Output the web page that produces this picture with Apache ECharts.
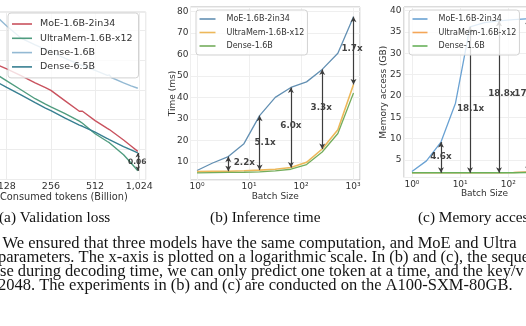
<!DOCTYPE html>
<html>
<head>
<meta charset="utf-8">
<title>UltraMem vs MoE vs Dense</title>
<script src="https://cdn.jsdelivr.net/npm/echarts@6/dist/echarts.min.js"></script>
<style>
  html, body { margin: 0; padding: 0; background: #ffffff; }
  #main { width: 526px; height: 326px; }
</style>
</head>
<body>
<div id="main"></div>
<script>
// ---- (a) Validation loss against consumed tokens (billions) ----
const tokens       = [100, 128, 160, 200, 235, 242, 256, 320, 400, 410, 420, 512, 620, 640, 660, 800, 900, 1000];
const lossMoE      = [2.593, 2.570, 2.547, 2.523, 2.507, 2.504, 2.498, 2.463, 2.428, 2.425, 2.428, 2.397, 2.371, 2.367, 2.362, 2.332, 2.312, 2.294];
const lossUltraMem = [2.563, 2.530, 2.500, 2.470, 2.452, 2.458, 2.443, 2.420, 2.395, 2.391, 2.388, 2.353, 2.327, 2.323, 2.317, 2.283, 2.255, 2.229];
const lossDense16  = [2.763, 2.713, 2.673, 2.650, 2.635, 2.632, 2.627, 2.605, 2.585, 2.583, 2.581, 2.565, 2.548, 2.550, 2.541, 2.523, 2.513, 2.505];
const lossDense65  = [2.537, 2.508, 2.483, 2.457, 2.439, 2.436, 2.430, 2.405, 2.382, 2.380, 2.378, 2.358, 2.337, 2.333, 2.330, 2.310, 2.299, 2.289];
const lossGapAt     = [1000];
const lossGapLabels = ['0.06'];

// ---- (b) Inference time and (c) memory access against batch size ----
const batchSizes   = [1, 2, 4, 8, 16, 32, 64, 128, 256, 512, 1024];
const timeMoE      = [6.0, 9.5, 12.5, 18.5, 31.5, 40.0, 44.6, 47.2, 53.0, 60.5, 77.5];
const timeUltraMem = [5.5, 5.6, 5.7, 5.9, 6.2, 6.6, 7.4, 9.8, 16.0, 25.0, 46.0];
const timeDense    = [4.9, 5.0, 5.1, 5.2, 5.4, 5.8, 6.6, 8.8, 14.6, 23.2, 42.0];
const timeRatioAt     = [4, 16, 64, 256, 1024];
const timeRatioLabels = ['2.2x', '5.1x', '6.0x', '3.3x', '1.7x'];

const memMoE      = [2.3, 4.8, 9.2, 18.3, 36.2, 37.2, 37.6, 37.9, 38.1, 38.3, 38.4];
const memUltraMem = [2.0, 2.0, 2.0, 2.0, 2.0, 2.0, 2.0, 2.05, 2.2, 2.3, 2.5];
const memDense    = [2.0, 2.0, 2.0, 2.0, 2.0, 2.0, 2.0, 2.0, 2.05, 2.1, 2.2];
const memRatioAt     = [4, 16, 64, 256];
const memRatioLabels = ['4.6x', '18.1x', '18.8x', '17.3x'];

const batchTickLabels = { 1: '10⁰', 10: '10¹', 100: '10²', 1000: '10³' };

const namesLoss = ['MoE-1.6B-2in34', 'UltraMem-1.6B-x12', 'Dense-1.6B', 'Dense-6.5B'];
const namesPerf = ['MoE-1.6B-2in34', 'UltraMem-1.6B-x12', 'Dense-1.6B'];

const captions  = ['(a) Validation loss', '(b) Inference time', '(c) Memory access'];
const bodyLines = [
  'We ensured that three models have the same computation, and MoE and Ultra',
  'parameters. The x-axis is plotted on a logarithmic scale. In (b) and (c), the seque',
  'se during decoding time, we can only predict one token at a time, and the key/v',
  '2048. The experiments in (b) and (c) are conducted on the A100-SXM-80GB.'
];

// ---- styling ----
const colorsLoss = ['#c9525e', '#4f9c7f', '#93b9d3', '#377f91'];
const colorsTime = ['#6390b3', '#edb85a', '#74ad5c'];
const colorsMem  = ['#6aa2d3', '#f4a657', '#68b05a'];
const sans  = 'DejaVu Sans';
const serif = 'Liberation Serif';
const ink   = '#333333';

const pairs = (xs, ys) => xs.map((x, i) => [x, ys[i]]);
const valueAt = (xs, ys, x) => ys[xs.indexOf(x)];

function lineSeries(name, xs, ys, idx, color, width) {
  return {
    type: 'line', name, xAxisIndex: idx, yAxisIndex: idx,
    data: pairs(xs, ys), symbol: 'none', showSymbol: false, clip: true, silent: true,
    lineStyle: { color, width }, itemStyle: { color },
    emphasis: { disabled: true }, z: 2
  };
}

// double-headed arrows between two curves, with a bold text tag near the middle
function ratioSeries(idx, at, tops, bottoms, labels, offsets, fontSize, head) {
  return {
    type: 'scatter', xAxisIndex: idx, yAxisIndex: idx, symbolSize: 0, silent: true, z: 4,
    data: at.map((x, i) => ({
      value: [x, (tops[i] + bottoms[i]) / 2], name: labels[i],
      label: { offset: offsets[i] }
    })),
    label: {
      show: true, position: 'inside', formatter: '{b}',
      fontFamily: sans, fontWeight: 'bold', fontSize, color: '#111111'
    },
    markLine: {
      silent: true, animation: false, symbol: ['arrow', 'arrow'], symbolSize: head,
      lineStyle: { color: '#3d3d3d', width: 1.2, type: 'solid' },
      label: { show: false }, emphasis: { disabled: true },
      data: at.map((x, i) => [{ coord: [x, tops[i]] }, { coord: [x, bottoms[i]] }])
    }
  };
}

const legendBase = {
  orient: 'vertical', selectedMode: false, icon: 'rect', itemHeight: 1.6,
  backgroundColor: 'rgba(255,255,255,0.8)', borderColor: '#d2d2d2', borderWidth: 1, borderRadius: 3,
  itemStyle: { borderWidth: 0 }, z: 10
};

const multipleOf = step => v => (v > 0 && Math.abs(v / step - Math.round(v / step)) < 1e-6 ? String(Math.round(v)) : '');
const batchLabel = v => batchTickLabels[Math.round(v)] || '';

const option = {
  animation: false,
  backgroundColor: '#ffffff',
  textStyle: { fontFamily: sans },
  grid: [
    { left: -18, top: 12, width: 163.7, height: 167.5, show: true, borderColor: '#d6d6d6', borderWidth: 1, outerBoundsMode: 'none' },
    { left: 190.5, top: 7, width: 169.5, height: 173, show: true, borderColor: '#b8b8b8', borderWidth: 1, outerBoundsMode: 'none' },
    { left: 404, top: 7, width: 161, height: 170.5, show: true, borderColor: '#b8b8b8', borderWidth: 1, outerBoundsMode: 'none' }
  ],
  xAxis: [
    {
      gridIndex: 0, type: 'log', logBase: 2, min: 86.9, max: 1132,
      axisLine: { show: false }, axisTick: { show: false },
      axisLabel: { fontSize: 9.5, color: ink, margin: 2.5, fontFamily: sans,
        showMinLabel: false, showMaxLabel: false },
      splitLine: { show: true, lineStyle: { color: '#ececec', width: 1 } },
      name: 'Consumed tokens (Billion)', nameLocation: 'middle', nameGap: 13, nameMoveOverlap: false,
      nameTextStyle: { fontSize: 9.75, color: ink, fontFamily: sans }
    },
    {
      gridIndex: 1, type: 'log', logBase: 10, min: 0.75, max: 1365,
      axisLine: { show: false }, axisTick: { show: false },
      axisLabel: { fontSize: 9, color: ink, margin: 2, fontFamily: sans, formatter: batchLabel },
      splitLine: { show: true, lineStyle: { color: '#efefef', width: 1 } },
      name: 'Batch Size', nameLocation: 'middle', nameGap: 12, nameMoveOverlap: false,
      nameTextStyle: { fontSize: 9, color: ink, fontFamily: sans }
    },
    {
      gridIndex: 2, type: 'log', logBase: 10, min: 0.684, max: 1496,
      axisLine: { show: false }, axisTick: { show: false },
      axisLabel: { fontSize: 9, color: ink, margin: 3, fontFamily: sans, formatter: batchLabel },
      splitLine: { show: true, lineStyle: { color: '#efefef', width: 1 } },
      name: 'Batch Size', nameLocation: 'middle', nameGap: 12, nameMoveOverlap: false,
      nameTextStyle: { fontSize: 9, color: ink, fontFamily: sans }
    }
  ],
  yAxis: [
    {
      gridIndex: 0, type: 'value', min: 2.2, max: 2.76, interval: 0.1,
      axisLine: { show: false }, axisTick: { show: false }, axisLabel: { show: false },
      splitLine: { show: true, lineStyle: { color: '#ececec', width: 1 } }
    },
    {
      gridIndex: 1, type: 'value', min: 1.6, max: 82, splitNumber: 8,
      axisLine: { show: false }, axisTick: { show: false },
      axisLabel: { fontSize: 9, color: ink, margin: 2, fontFamily: sans, formatter: multipleOf(10) },
      splitLine: { show: true, lineStyle: { color: '#efefef', width: 1 } },
      name: 'Time (ms)', nameLocation: 'middle', nameGap: 13, nameMoveOverlap: false,
      nameTextStyle: { fontSize: 9, color: ink, fontFamily: sans }
    },
    {
      gridIndex: 2, type: 'value', min: 0.9, max: 40.85, splitNumber: 8,
      axisLine: { show: false }, axisTick: { show: false },
      axisLabel: { fontSize: 9, color: ink, margin: 2.5, fontFamily: sans, formatter: multipleOf(5) },
      splitLine: { show: true, lineStyle: { color: '#efefef', width: 1 } },
      name: 'Memory access (GB)', nameLocation: 'middle', nameGap: 16, nameMoveOverlap: false,
      nameTextStyle: { fontSize: 9, color: ink, fontFamily: sans }
    }
  ],
  legend: [
    Object.assign({}, legendBase, {
      left: 8, top: 13, itemWidth: 20, itemGap: 2.3, padding: [5, 6, 5, 4],
      textStyle: { fontFamily: sans, fontSize: 9.5, lineHeight: 12, color: ink, padding: [0, 0, 0, 3] },
      data: namesLoss.map((n, i) => ({ name: n, itemStyle: { color: colorsLoss[i] } }))
    }),
    Object.assign({}, legendBase, {
      left: 196, top: 10, itemWidth: 16, itemGap: 3.5, padding: [4, 3, 4, 3.5],
      textStyle: { fontFamily: sans, fontSize: 8, lineHeight: 10, color: ink, padding: [0, 0, 0, 6] },
      data: namesPerf.map((n, i) => ({ name: n, itemStyle: { color: colorsTime[i] } }))
    }),
    Object.assign({}, legendBase, {
      left: 409, top: 10, itemWidth: 15, itemGap: 3.5, padding: [4, 3, 4, 3.5],
      textStyle: { fontFamily: sans, fontSize: 8, lineHeight: 10, color: ink, padding: [0, 0, 0, 6] },
      data: namesPerf.map((n, i) => ({ name: n, itemStyle: { color: colorsMem[i] } }))
    })
  ],
  series: [
    lineSeries(namesLoss[0], tokens, lossMoE, 0, colorsLoss[0], 1.4),
    lineSeries(namesLoss[1], tokens, lossUltraMem, 0, colorsLoss[1], 1.4),
    lineSeries(namesLoss[2], tokens, lossDense16, 0, colorsLoss[2], 1.4),
    lineSeries(namesLoss[3], tokens, lossDense65, 0, colorsLoss[3], 1.4),
    ratioSeries(0, lossGapAt,
      lossGapAt.map(x => valueAt(tokens, lossDense65, x)),
      lossGapAt.map(x => valueAt(tokens, lossUltraMem, x)),
      lossGapLabels, [[-0.5, 0]], 7.5, [3.5, 4.5]),

    lineSeries(namesPerf[0], batchSizes, timeMoE, 1, colorsTime[0], 1.3),
    lineSeries(namesPerf[1], batchSizes, timeUltraMem, 1, colorsTime[1], 1.6),
    lineSeries(namesPerf[2], batchSizes, timeDense, 1, colorsTime[2], 1.3),
    ratioSeries(1, timeRatioAt,
      timeRatioAt.map(x => valueAt(batchSizes, timeMoE, x)),
      timeRatioAt.map(x => valueAt(batchSizes, timeUltraMem, x)),
      timeRatioLabels, [[16, -1.6], [5.5, 0], [0, -1.5], [-1, -1], [-1.5, -2]], 8.8, [4.5, 5.5]),

    lineSeries(namesPerf[0], batchSizes, memMoE, 2, colorsMem[0], 1.3),
    lineSeries(namesPerf[1], batchSizes, memUltraMem, 2, colorsMem[1], 1.5),
    lineSeries(namesPerf[2], batchSizes, memDense, 2, colorsMem[2], 1.5),
    ratioSeries(2, memRatioAt,
      memRatioAt.map(x => valueAt(batchSizes, memMoE, x)),
      memRatioAt.map(x => valueAt(batchSizes, memUltraMem, x)),
      memRatioLabels, [[0, -0.7], [0.6, 8.5], [2.8, -3.5], [0, -2]], 8.8, [4.5, 5.5])
  ],
  graphic: [].concat(
    captions.map((t, i) => ({
      type: 'text', silent: true,
      x: [-1, 265.3, 418][i], y: 218,
      style: { text: t, fontFamily: serif, fontSize: 15.3, fill: '#111111',
        align: i === 1 ? 'center' : 'left', verticalAlign: 'middle' }
    })),
    bodyLines.map((t, i) => ({
      type: 'text', silent: true,
      x: [2.5, -2, 0, -2][i], y: 244 + i * 13.8,
      style: { text: t, fontFamily: serif, fontSize: 16.5, fill: '#151515',
        align: 'left', verticalAlign: 'middle' }
    }))
  )
};

const chart = echarts.init(document.getElementById('main'), null, { renderer: 'canvas', width: 526, height: 326 });
chart.setOption(option);
</script>
</body>
</html>
